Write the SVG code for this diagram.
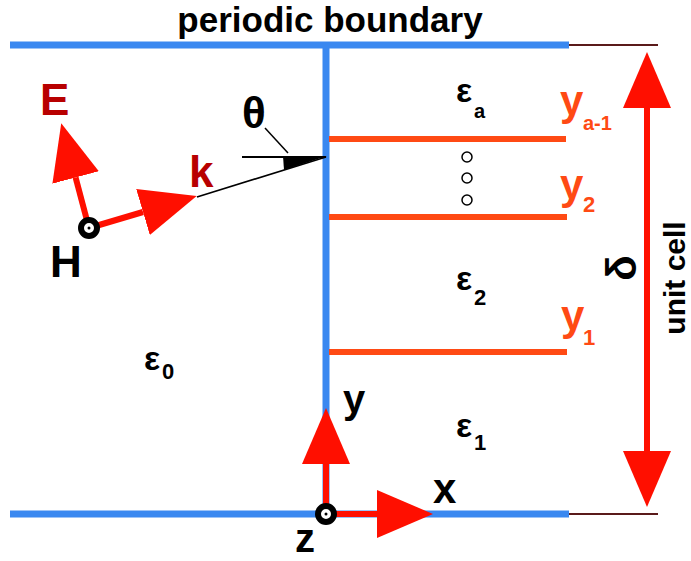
<svg xmlns="http://www.w3.org/2000/svg" width="691" height="561" viewBox="0 0 691 561">
<style>
.t{font-family:"Liberation Sans",Arial,sans-serif;font-weight:bold}
.blk{fill:#000}
.dred{fill:#b80000}
.org{fill:#ff4a14}
.blue{stroke:#3a88f0;stroke-width:7;fill:none}
.brown{stroke:#5a1a1a;stroke-width:2}
.layer{stroke:#ff4a14;stroke-width:6}
.arr{stroke:#ff0f00;stroke-width:6;fill:none}
.sym{fill:#fff;stroke:#000;stroke-width:6}
.dot{fill:#fff;stroke:#000;stroke-width:1.5}
</style>
<defs>
<marker id="ah" viewBox="0 0 56 48" refX="0" refY="24" markerWidth="56" markerHeight="48" markerUnits="userSpaceOnUse" orient="auto-start-reverse">
<path d="M0,0 L56,24 L0,48 Z" fill="#ff0f00"/>
</marker>
</defs>
<rect width="691" height="561" fill="#fff"/>

<g id="boundaries">
<line class="blue" x1="10" y1="45" x2="569" y2="45"/>
<line class="blue" x1="10" y1="514" x2="569" y2="514"/>
<line class="blue" x1="326" y1="45" x2="326" y2="514"/>
<line class="brown" x1="569" y1="45" x2="658" y2="45"/>
<line class="brown" x1="569" y1="514" x2="658" y2="514"/>
<text class="t blk" x="330" y="32" font-size="35" text-anchor="middle">periodic boundary</text>
</g>

<g id="layers">
<line class="layer" x1="329" y1="139" x2="566" y2="139"/>
<line class="layer" x1="329" y1="217" x2="567" y2="217"/>
<line class="layer" x1="329" y1="352" x2="567" y2="352"/>
<circle class="dot" cx="467" cy="157" r="5"/>
<circle class="dot" cx="467" cy="178" r="5"/>
<circle class="dot" cx="467" cy="200" r="5"/>
</g>

<g id="labels">
<text class="t blk" x="456" y="102" font-size="34">ε</text><text class="t blk" x="474" y="118" font-size="20">a</text>
<text class="t blk" x="456" y="290" font-size="34">ε</text><text class="t blk" x="474" y="305" font-size="22">2</text>
<text class="t blk" x="456" y="437" font-size="34">ε</text><text class="t blk" x="474" y="450" font-size="22">1</text>
<text class="t blk" x="144" y="370" font-size="34">ε</text><text class="t blk" x="162" y="379" font-size="22">0</text>
<text class="t org" x="560" y="115" font-size="42">y</text><text class="t org" x="583" y="130" font-size="20">a-1</text>
<text class="t org" x="560" y="199" font-size="42">y</text><text class="t org" x="583" y="212" font-size="22">2</text>
<text class="t org" x="561" y="330" font-size="42">y</text><text class="t org" x="583" y="345" font-size="22">1</text>
</g>

<g id="unitcell">
<text class="t blk" font-size="42" text-anchor="middle" transform="translate(636,268) rotate(-90)">δ</text>
<text class="t blk" font-size="30" text-anchor="middle" transform="translate(685,278) rotate(-90)">unit cell</text>
</g>

<g id="connectors">
<line class="arr" x1="647" y1="108" x2="647" y2="451" marker-start="url(#ah)" marker-end="url(#ah)"/>
<line class="arr" x1="326" y1="514" x2="326" y2="464" marker-end="url(#ah)"/>
<line class="arr" x1="326" y1="514" x2="377" y2="514" marker-end="url(#ah)"/>
<line class="arr" x1="89" y1="228" x2="75.6" y2="177.5" marker-end="url(#ah)"/>
<line class="arr" x1="89" y1="228" x2="143" y2="212" marker-end="url(#ah)"/>
<line x1="197" y1="197" x2="326" y2="157" stroke="#000" stroke-width="1.6"/>
<line x1="242" y1="157" x2="326" y2="157" stroke="#000" stroke-width="2"/>
<polygon points="283,156 327,156 284,170" fill="#000"/>
<line x1="265" y1="128" x2="288" y2="153" stroke="#000" stroke-width="1.5"/>
</g>

<g id="wave">
<circle class="sym" cx="89" cy="228" r="8"/>
<circle cx="89" cy="228" r="1.5" fill="#000"/>
<text class="t dred" x="40" y="115" font-size="44">E</text>
<text class="t dred" x="189" y="187" font-size="44">k</text>
<text class="t blk" x="50" y="277" font-size="44">H</text>
<text class="t blk" x="242" y="128" font-size="44">θ</text>
</g>

<g id="axes">
<circle class="sym" cx="326" cy="514" r="8"/>
<circle cx="326" cy="514" r="1.5" fill="#000"/>
<text class="t blk" x="343" y="413" font-size="40">y</text>
<text class="t blk" x="433" y="503" font-size="42">x</text>
<text class="t blk" x="295" y="552" font-size="40">z</text>
</g>
</svg>
